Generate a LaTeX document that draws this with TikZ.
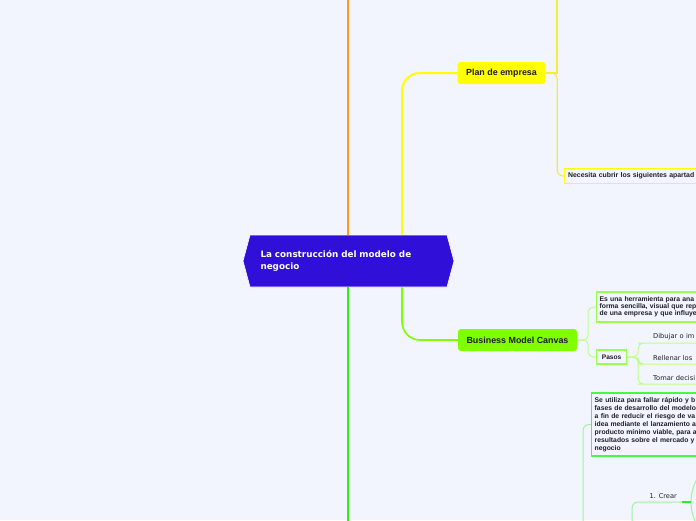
\documentclass[tikz,border=0pt]{standalone}
\usepackage{fontspec}
\setmainfont{Liberation Sans}
\newfontfamily\verdana{DejaVu Sans}
\usepackage{tikz}
\usetikzlibrary{
  positioning,
  shapes.symbols,
  shapes.geometric
}
\definecolor{MapBack}{RGB}{242,245,254}
\definecolor{RootBlue}{RGB}{48,16,216}
\definecolor{TopOrange}{RGB}{255,153,30}
\definecolor{PlanYellow}{RGB}{255,255,0}
\definecolor{PaleYellow}{RGB}{240,240,60}
\definecolor{DownGreen}{RGB}{50,240,20}
\definecolor{CanvasGreen}{RGB}{128,255,0}
\definecolor{PaleCanvas}{RGB}{190,255,140}
\definecolor{ToolGreen}{RGB}{150,255,80}
\definecolor{LeanGreen}{RGB}{68,250,68}
\definecolor{PaleLean}{RGB}{160,242,160}
\definecolor{CycleGreen}{RGB}{50,232,50}
\definecolor{InkGray}{RGB}{30,30,40}
\tikzset{
  rootnode/.style={signal,signal to=west and east,signal pointer angle=150,fill=RootBlue,draw=white,line width=.6pt,text=white,text width=176pt,align=left,inner xsep=10.5pt,minimum height=52pt,font=\verdana\bfseries\fontsize{8.8}{12}\selectfont},
  plannode/.style={fill=PlanYellow,rounded corners=3pt,minimum width=88pt,minimum height=22pt,text=InkGray,font=\bfseries\fontsize{8.9}{10}\selectfont},
  bmcnode/.style={fill=CanvasGreen,rounded corners=3pt,minimum width=119pt,minimum height=22pt,text=InkGray,font=\bfseries\fontsize{8.9}{10}\selectfont},
  needbox/.style={draw=PlanYellow,line width=1.2pt,fill=MapBack,text width=160pt,align=left,inner xsep=3.5pt,minimum height=15pt,text=InkGray,font=\bfseries\fontsize{6.9}{7}\selectfont},
  toolbox/.style={draw=ToolGreen,line width=1.2pt,fill=MapBack,text width=140pt,align=left,inner xsep=3pt,minimum height=30pt,text=InkGray,font=\bfseries\fontsize{6.8}{7.2}\selectfont},
  pasosbox/.style={draw=ToolGreen,line width=1.2pt,fill=MapBack,inner xsep=3pt,minimum width=30pt,minimum height=14pt,text=InkGray,font=\bfseries\fontsize{6.6}{7}\selectfont},
  leanbox/.style={draw=LeanGreen,line width=1.4pt,fill=MapBack,text width=140pt,align=left,inner xsep=3pt,minimum height=63pt,text=InkGray,font=\bfseries\fontsize{6.8}{8}\selectfont},
  stepitem/.style={inner xsep=10pt,inner ysep=3pt,text width=60pt,align=left,text=InkGray,font=\verdana\fontsize{6.7}{7}\selectfont},
  crearitem/.style={inner xsep=5pt,inner ysep=3pt,text=InkGray,font=\verdana\fontsize{6.6}{7}\selectfont},
  cyclenode/.style={circle,draw=PaleLean,line width=1pt,minimum size=94pt},
  orangelink/.style={draw=TopOrange,line width=2pt},
  downlink/.style={draw=DownGreen,line width=2pt},
  yellowlink/.style={draw=PlanYellow,line width=2pt,rounded corners=18pt},
  canvaslink/.style={draw=CanvasGreen,line width=1.6pt,rounded corners=18pt},
  planlink/.style={draw=PaleYellow,line width=1.1pt},
  bmclink/.style={draw=PaleCanvas,line width=1pt,rounded corners=5pt},
  leanlink/.style={draw=PaleLean,line width=1pt,rounded corners=6pt},
  cyclelink/.style={draw=CycleGreen,line width=2pt}
}
\begin{document}
\begin{tikzpicture}[x=1pt,y=-1pt]
\fill[MapBack, use as bounding box] (0,0) rectangle (696,520);
\clip (0,0) rectangle (696,520);
% centre and main branches
\node[rootnode] (root) at (348.5,261) {La construcción del modelo de\\negocio};
\coordinate (topedge) at (348,-5);
\coordinate (botedge) at (348,530);
\draw[orangelink] (root.north -| topedge) -- (topedge);
\draw[downlink] (root.south -| botedge) -- (botedge);
\node[plannode] (plan) at (501.5,73) {Plan de empresa};
\node[bmcnode] (bmc) at (517.5,340) {Business Model Canvas};
\draw[yellowlink] ([xshift=53.5pt]root.north) |- (plan.west);
\draw[canvaslink] ([xshift=53.5pt]root.south) |- (bmc.west);
% plan de empresa
\node[needbox, anchor=west] (need) at (564,176) {Necesita cubrir los siguientes apartad};
\coordinate (planup) at (557,-5);
\draw[planlink] (plan.east) -| (planup);
\draw[planlink, rounded corners=6pt] (plan.east) -- ++(11.5,0) |- (need.west);
% business model canvas
\node[toolbox, anchor=west] (tool) at (596,307) {Es una herramienta para ana\\forma sencilla, visual que rep\\de una empresa y que influye};
\node[pasosbox, anchor=west] (pasos) at (596,357) {Pasos};
\draw[bmclink] (bmc.east) -- ++(11,0) |- (tool.west);
\draw[bmclink] (bmc.east) -- ++(11,0) |- (pasos.west);
\node[stepitem, anchor=south west] (dib) at (643,343) {Dibujar o im};
\node[stepitem, anchor=south west] (rel) at (643,364) {Rellenar los};
\node[stepitem, anchor=south west] (tom) at (643,384) {Tomar decisi};
\foreach \s in {dib,rel,tom}
  \draw[bmclink] (pasos.east) -- ++(11,0) |- (\s.south west) -- (\s.south east);
% lean startup
\node[leanbox, anchor=west] (use) at (591,424.5) {Se utiliza para fallar rápido y b\\fases de desarrollo del modelo\\a fin de reducir el riesgo de va\\idea mediante el lanzamiento a\\producto mínimo viable, para a\\resultados sobre el mercado y\\negocio};
\coordinate (leanroot) at (583,540);
\draw[leanlink] (leanroot) |- (use.west);
\node[crearitem, anchor=south east] (crear) at (682,502) {1. Crear};
\node[cyclenode] (cycle) at (738,502) {};
\coordinate (crearroot) at (632,540);
\draw[leanlink] (crearroot) |- (crear.south west) -- (crear.south east);
\draw[cyclelink] (crear.south east) -- (cycle.west);
\end{tikzpicture}
\end{document}
